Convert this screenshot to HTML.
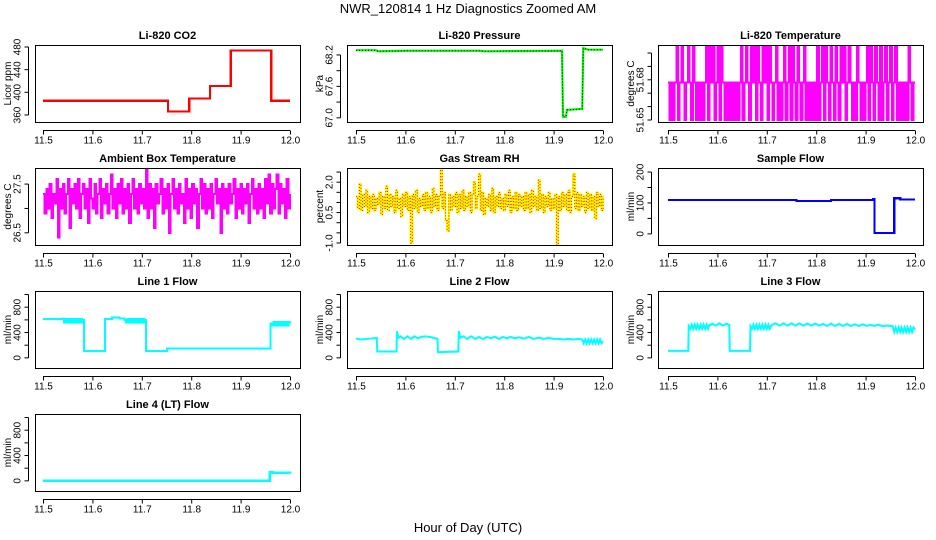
<!DOCTYPE html>
<html><head><meta charset="utf-8"><style>
html,body{margin:0;padding:0;background:#fff;}
svg{display:block;font-family:"Liberation Sans",Arial,sans-serif;}
</style></head><body>
<svg id="c" width="936" height="540" xmlns="http://www.w3.org/2000/svg">
<text x="468" y="13" text-anchor="middle" font-size="13">NWR_120814  1 Hz Diagnostics Zoomed AM</text>
<text x="468" y="532" text-anchor="middle" font-size="13">Hour of Day (UTC)</text>
</svg>
<script>
// ---------- data ----------
const xTicks = [11.5, 11.6, 11.7, 11.8, 11.9, 12.0];
const xTickLabels = ['11.5', '11.6', '11.7', '11.8', '11.9', '12.0'];

const co2Times = [11.5, 11.752, 11.753, 11.795, 11.796, 11.837, 11.838, 11.878, 11.88, 11.96, 11.962, 12.0];
const co2Values = [385, 385, 366, 366, 389, 389, 411, 411, 474, 474, 385, 385];

const pressTimes = [11.5, 11.54, 11.545, 11.6, 11.75, 11.76, 11.917, 11.919, 11.925, 11.927, 11.958, 11.96, 11.97, 12.0];
const pressValues = [68.29, 68.29, 68.27, 68.28, 68.28, 68.27, 68.28, 67.02, 67.02, 67.15, 67.17, 68.33, 68.30, 68.30];

const liTempValues = [
51.678,51.65,51.678,51.65,51.678,51.705,51.65,51.678,51.705,51.678,
51.65,51.678,51.705,51.678,51.65,51.705,51.678,51.65,51.678,51.65,
51.678,51.65,51.678,51.705,51.65,51.705,51.678,51.705,51.65,51.678,
51.705,51.65,51.705,51.678,51.65,51.678,51.65,51.678,51.65,51.678,
51.65,51.678,51.65,51.678,51.705,51.65,51.678,51.705,51.678,51.65,
51.705,51.678,51.705,51.65,51.705,51.678,51.65,51.705,51.678,51.705,
51.65,51.705,51.678,51.65,51.678,51.705,51.65,51.678,51.65,51.678,
51.705,51.65,51.678,51.705,51.65,51.705,51.678,51.65,51.705,51.678,
51.65,51.678,51.705,51.65,51.678,51.65,51.678,51.65,51.678,51.65,
51.705,51.65,51.678,51.705,51.65,51.705,51.678,51.65,51.705,51.678,
51.65,51.705,51.678,51.65,51.705,51.678,51.705,51.65,51.678,51.705,
51.678,51.65,51.678,51.65,51.705,51.678,51.65,51.678,51.65,51.678,
51.705,51.65,51.705,51.678,51.65,51.705,51.678,51.65,51.705,51.65,
51.678,51.705,51.65,51.678,51.705,51.65,51.678,51.705,51.65,51.678,
51.65,51.678,51.65,51.678,51.65,51.705,51.678,51.65,51.678,51.678];

const ambientValues = [
27.3,26.9,27.4,27.0,27.5,26.8,27.3,27.1,27.6,26.4,
27.4,27.0,27.5,26.9,27.3,27.6,26.6,27.4,27.1,27.5,
27.0,27.6,26.8,27.3,27.5,27.0,27.4,26.7,27.6,27.2,
27.0,27.5,26.9,27.3,27.6,26.8,27.4,27.1,27.5,26.9,
27.3,27.7,27.0,27.4,26.8,27.5,27.1,27.6,26.9,27.4,
27.0,27.5,26.7,27.3,27.6,27.0,27.4,26.9,27.5,27.1,
27.4,27.0,27.8,26.8,27.5,27.0,27.4,26.6,27.5,27.1,
27.3,27.6,26.9,27.4,27.0,27.5,26.5,27.3,27.6,27.0,
27.4,26.9,27.5,27.1,27.3,26.7,27.6,27.0,27.4,26.8,
27.5,27.1,27.4,26.6,27.3,27.6,27.0,27.5,26.9,27.4,
27.0,27.5,26.8,27.3,27.6,27.1,27.4,26.5,27.5,27.0,
27.4,26.9,27.5,27.1,27.3,27.6,26.8,27.4,27.0,27.5,
26.9,27.4,27.1,27.5,26.7,27.3,27.6,27.0,27.4,26.9,
27.5,27.0,27.4,26.8,27.6,27.1,27.7,26.9,27.5,27.0,
27.4,27.7,26.9,27.5,27.1,27.4,26.8,27.6,27.0,27.3];

const rhValues = [
1.3,0.7,1.9,0.6,1.4,0.8,1.6,0.5,1.3,0.7,
1.4,0.6,1.2,0.9,1.5,0.4,1.3,0.7,1.8,0.6,
1.4,0.8,1.3,0.5,1.6,0.7,1.2,0.3,1.4,0.8,
1.5,0.6,1.3,-1.0,1.4,0.7,1.6,0.5,1.2,0.8,
1.4,0.6,1.5,0.7,1.3,0.5,1.7,0.8,1.4,0.6,
1.3,2.6,0.7,1.5,0.1,-0.4,1.4,0.6,1.3,0.8,
1.5,0.5,1.4,0.7,1.6,0.6,1.3,0.8,1.5,0.5,
1.4,2.0,0.7,1.3,2.4,0.6,1.5,0.4,1.2,0.8,
1.4,0.6,1.7,0.5,1.3,0.8,1.5,0.7,1.2,0.6,
1.4,0.8,1.6,0.5,1.3,0.7,1.5,0.6,1.4,0.8,
1.3,0.6,1.5,0.7,1.4,0.5,1.6,0.8,1.3,0.6,
2.1,0.7,1.4,0.5,1.3,0.8,1.5,0.6,1.2,0.7,
1.4,-1.1,1.3,0.6,1.5,0.8,1.4,0.6,1.6,0.5,
1.3,2.4,0.7,1.5,0.6,1.4,0.8,1.3,0.5,1.5,
0.7,1.4,0.6,1.3,0.2,1.5,0.8,1.4,0.6,1.3];

const sampleTimes = [11.5, 11.75, 11.76, 11.82, 11.83, 11.915, 11.918, 11.955, 11.958, 11.97, 12.0];
const sampleValues = [110, 110, 106, 106, 110, 112, 3, 3, 115, 111, 111];

const line1Times = [11.5,11.53,11.54,
11.543,11.546,11.549,11.552,11.555,11.558,11.561,11.564,11.567,11.570,11.573,11.576,11.579,11.582,
11.583,11.625,11.626,11.64,11.655,11.665,
11.668,11.671,11.674,11.677,11.680,11.683,11.686,11.689,11.692,11.695,11.698,11.701,11.704,
11.707,11.708,11.75,11.751,11.96,11.961,
11.964,11.967,11.970,11.973,11.976,11.979,11.982,11.985,11.988,11.991,11.994,11.997,12.0];
const line1Values = [610,610,625,
560,610,560,610,560,610,560,610,560,610,560,610,560,600,
110,110,610,640,620,600,
560,610,560,610,560,610,560,610,560,610,560,610,560,
600,110,110,145,145,540,
510,565,510,565,510,565,510,565,510,565,510,565,540];

const line2Times = [11.5,11.51,11.53,11.542,11.543,11.582,11.583,11.586,
11.59,11.597,11.604,11.611,11.618,11.625,11.632,11.64,11.65,11.66,11.665,11.666,11.707,11.708,11.711,
11.718,11.725,11.733,11.741,11.749,11.757,11.765,11.773,11.781,11.789,11.797,11.805,11.813,11.821,11.83,11.84,11.85,11.86,11.87,11.88,11.89,11.9,11.91,11.92,11.93,11.94,11.95,11.958,
11.961,11.964,11.967,11.970,11.973,11.976,11.979,11.982,11.985,11.988,11.991,11.994,11.997,12.0];
const line2Values = [305,290,305,315,100,100,420,320,
340,300,340,300,340,310,330,340,330,310,300,90,100,420,320,
340,300,340,300,330,300,330,310,335,300,330,310,330,310,325,305,330,300,320,300,315,300,300,290,300,290,300,290,
230,290,230,290,230,290,230,290,230,290,230,290,230,260];

const line3Times = [11.5,11.541,11.542,
11.545,11.548,11.551,11.554,11.557,11.560,11.563,11.566,11.569,11.572,11.575,11.578,11.581,11.584,
11.586,11.59,11.597,11.604,11.611,11.618,11.624,11.625,11.666,11.667,
11.670,11.673,11.676,11.679,11.682,11.685,11.688,11.691,11.694,11.697,11.700,11.703,11.706,
11.71,11.718,11.726,11.734,11.742,11.75,11.758,11.766,11.774,11.782,11.79,11.798,11.806,11.814,11.822,11.83,11.838,11.846,11.854,11.862,11.87,11.878,11.886,11.894,11.902,11.91,11.918,11.926,11.934,11.942,11.95,11.955,
11.958,11.961,11.964,11.967,11.970,11.973,11.976,11.979,11.982,11.985,11.988,11.991,11.994,11.997,12.0];
const line3Values = [110,110,500,
460,525,460,525,460,525,460,525,460,525,460,525,460,525,
520,540,510,545,510,540,520,110,110,500,
460,525,460,525,460,525,460,525,460,525,460,525,460,
520,545,510,545,510,545,510,545,510,540,510,540,510,535,505,540,505,535,505,535,505,530,505,530,505,520,505,525,500,510,505,500,
410,480,410,480,410,480,410,480,410,480,410,480,410,480,450];

const line4Times = [11.5, 11.958, 11.959, 11.965, 12.0];
const line4Values = [5, 5, 140, 125, 120];

// ---------- rendering ----------
const NS = 'http://www.w3.org/2000/svg';
const svg = document.getElementById('c');
const rowTops = [45, 168, 291, 414];
const colLefts = [35, 347, 658];
const colX0 = [43, 356, 668];
const BOXW = 265, BOXH = 77, XSPAN = 247;

function mk(tag, attrs, parent) {
  const e = document.createElementNS(NS, tag);
  for (const k in attrs) e.setAttribute(k, attrs[k]);
  (parent || svg).appendChild(e);
  return e;
}
function evenTimes(n) { const t = []; for (let i = 0; i < n; i++) t.push(11.5 + 0.5 * i / (n - 1)); return t; }

function panel(p) {
  const g = mk('g', {});
  
  
  const L = colLefts[p.col], T = rowTops[p.row], X0 = colX0[p.col];
  const xs = v => X0 + (v - 11.5) / 0.5 * XSPAN;
  const ys = v => T + (p.yTop - v) / (p.yTop - p.yBot) * BOXH;
  const ttl = mk('text', { x: L + BOXW / 2, y: T - 6, 'text-anchor': 'middle', 'font-size': 11, 'font-weight': 'bold' }, g);
  ttl.textContent = p.title;
  
  
  const times = p.times || evenTimes(p.values.length);
  let d = '';
  for (let i = 0; i < p.values.length; i++) {
    const x = xs(times[i]).toFixed(2), y = ys(p.values[i]).toFixed(2);
    if (i === 0) d += 'M' + x + ' ' + y;
    else if (p.step) d += 'H' + x + 'V' + y;
    else d += 'L' + x + ' ' + y;
  }
  const ln = mk('path', { d: d, fill: 'none', stroke: p.color, 'stroke-width': p.sw || 2.5, 'shape-rendering': p.step ? 'crispEdges' : 'auto' }, g);
  
  
  if (p.overlay) {
    const ov = mk('path', { d: d, fill: 'none', stroke: p.overlay, 'stroke-width': 1, 'stroke-dasharray': '1 2' }, g);
    
    
  }
  const bx = mk('rect', { x: L + 0.5, y: T + 0.5, width: BOXW, height: BOXH, fill: 'none', stroke: '#000', 'stroke-width': 1 }, g);
  
  
  const ay = T + BOXH + 8.5;
  const xa = mk('line', { x1: xs(xTicks[0]), x2: xs(xTicks[xTicks.length - 1]), y1: ay, y2: ay, stroke: '#000' }, g);
  
  
  xTicks.forEach((t, i) => {
    mk('line', { x1: xs(t) + 0.5, x2: xs(t) + 0.5, y1: ay, y2: ay + 4, stroke: '#000' }, g);
    const tl = mk('text', { x: xs(t) + 0.5, y: ay + 13, 'text-anchor': 'middle', 'font-size': 10 }, g);
    tl.textContent = xTickLabels[i];
    
    
  });
  const ax = L - 6.5;
  const ya = mk('line', { x1: ax, x2: ax, y1: ys(p.yTicks[0]), y2: ys(p.yTicks[p.yTicks.length - 1]), stroke: '#000' }, g);
  
  
  p.yTicks.forEach((t, i) => {
    const y = ys(t);
    mk('line', { x1: ax - 4, x2: ax, y1: y, y2: y, stroke: '#000' }, g);
    if (p.yLabels[i]) {
      const yl = mk('text', { x: 0, y: 0, 'text-anchor': 'middle', 'font-size': 10, transform: `translate(${ax - 8},${y}) rotate(-90)` }, g);
      yl.textContent = p.yLabels[i];
      
      
    }
  });
  const yt = mk('text', { x: 0, y: 0, 'text-anchor': 'middle', 'font-size': 10, transform: `translate(${L - 24},${T + BOXH / 2}) rotate(-90)` }, g);
  yt.textContent = p.yTitle;
  
  
}

const flowTicks = [0, 200, 400, 600, 800, 1000];
const flowLabels = ['0', '', '400', '', '800', ''];

panel({ name: 'co2-panel', row: 0, col: 0, title: 'Li-820 CO2', yTitle: 'Licor ppm', yBot: 347.6, yTop: 483.5,
  yTicks: [360, 400, 440, 480], yLabels: ['360', '400', '440', '480'], times: co2Times, values: co2Values, color: '#ff0000', sw: 2.2, step: true });
panel({ name: 'pressure-panel', row: 0, col: 1, title: 'Li-820 Pressure', yTitle: 'kPa', yBot: 66.92, yTop: 68.39,
  yTicks: [67.0, 67.3, 67.6, 67.9, 68.2], yLabels: ['67.0', '', '67.6', '', '68.2'], times: pressTimes, values: pressValues, color: '#00ff00', sw: 2.2, overlay: '#000' });
panel({ name: 'li-temperature-panel', row: 0, col: 2, title: 'Li-820 Temperature', yTitle: 'degrees C', yBot: 51.6485, yTop: 51.706,
  yTicks: [51.65, 51.66, 51.67, 51.68, 51.69, 51.70], yLabels: ['51.65', '', '', '51.68', '', ''], values: liTempValues, color: '#ff00ff', sw: 2, step: true });
panel({ name: 'ambient-temperature-panel', row: 1, col: 0, title: 'Ambient Box Temperature', yTitle: 'degrees C', yBot: 26.25, yTop: 27.83,
  yTicks: [26.5, 27.0, 27.5], yLabels: ['26.5', '', '27.5'], values: ambientValues, color: '#ff00ff', sw: 2, step: true });
panel({ name: 'rh-panel', row: 1, col: 1, title: 'Gas Stream RH', yTitle: 'percent', yBot: -1.1, yTop: 2.7,
  yTicks: [-1.0, -0.5, 0, 0.5, 1.0, 1.5, 2.0, 2.5], yLabels: ['-1.0', '', '', '0.5', '', '', '2.0', ''], values: rhValues, color: '#ffff00', sw: 2, step: true, overlay: '#ff0000' });
panel({ name: 'sample-flow-panel', row: 1, col: 2, title: 'Sample Flow', yTitle: 'ml/min', yBot: -36, yTop: 213,
  yTicks: [0, 50, 100, 150, 200], yLabels: ['0', '', '100', '', '200'], times: sampleTimes, values: sampleValues, color: '#0000ff', sw: 2.2, step: true });
panel({ name: 'line1-flow-panel', row: 2, col: 0, title: 'Line 1 Flow', yTitle: 'ml/min', yBot: -160, yTop: 1056,
  yTicks: flowTicks, yLabels: flowLabels, times: line1Times, values: line1Values, color: '#00ffff', sw: 2, step: true });
panel({ name: 'line2-flow-panel', row: 2, col: 1, title: 'Line 2 Flow', yTitle: 'ml/min', yBot: -160, yTop: 1056,
  yTicks: flowTicks, yLabels: flowLabels, times: line2Times, values: line2Values, color: '#00ffff', sw: 2 });
panel({ name: 'line3-flow-panel', row: 2, col: 2, title: 'Line 3 Flow', yTitle: 'ml/min', yBot: -160, yTop: 1056,
  yTicks: flowTicks, yLabels: flowLabels, times: line3Times, values: line3Values, color: '#00ffff', sw: 2 });
panel({ name: 'line4-flow-panel', row: 3, col: 0, title: 'Line 4 (LT) Flow', yTitle: 'ml/min', yBot: -160, yTop: 1056,
  yTicks: flowTicks, yLabels: flowLabels, times: line4Times, values: line4Values, color: '#00ffff', sw: 2.5, step: true });
</script>
</body></html>
